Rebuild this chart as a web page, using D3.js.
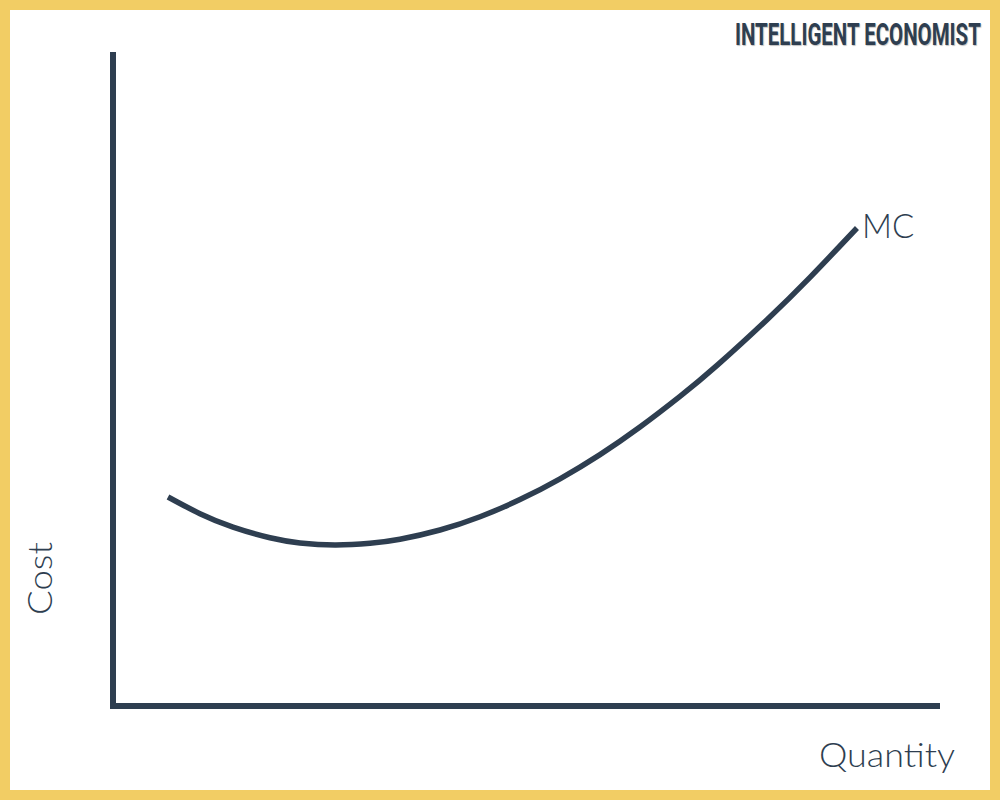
<!DOCTYPE html>
<html>
<head>
<meta charset="utf-8">
<script src="https://cdn.jsdelivr.net/npm/d3@7"></script>
<style>
  html, body { margin: 0; padding: 0; background: #fff; }
  svg { display: block; }
</style>
</head>
<body>
<svg id="chart" width="1000" height="800"></svg>
<script>
// Data (arbitrary units 0-100)
const mcQuantity = [6.65, 10.52, 14.51, 18.98, 22.61, 26.84, 31.08, 34.70, 39.54, 44.38, 49.21, 54.05, 58.89, 63.72, 68.56, 73.04, 79.08, 84.28, 89.96];
const mcCost     = [31.96, 29.40, 27.35, 25.73, 24.94, 24.62, 24.88, 25.50, 26.91, 28.94, 31.56, 34.74, 38.44, 42.66, 47.34, 52.08, 59.07, 65.54, 73.09];
const curveLabel = "MC";
const xAxisLabel = "Quantity";
const yAxisLabel = "Cost";
const brand = "INTELLIGENT ECONOMIST";

const ink = "#2E3E50";
const svg = d3.select("#chart");

// Border
svg.append("rect").attr("x", 0).attr("y", 0).attr("width", 1000).attr("height", 800).attr("fill", "#F2CD64");
svg.append("rect").attr("x", 10).attr("y", 10).attr("width", 980).attr("height", 780).attr("fill", "#ffffff");

const x = d3.scaleLinear().domain([0, 100]).range([113, 940]);
const y = d3.scaleLinear().domain([0, 100]).range([706, 52]);

// Axes (L-shape)
svg.append("path")
  .attr("d", d3.line()([[x(0), y(100)], [x(0), y(0)], [x(100), y(0)]]))
  .attr("fill", "none").attr("stroke", ink).attr("stroke-width", 6)
  .attr("stroke-linejoin", "miter").attr("stroke-linecap", "butt");

// MC curve
const pts = mcQuantity.map((q, i) => [q, mcCost[i]]);
svg.append("path")
  .datum(pts)
  .attr("d", d3.line().x(d => x(d[0])).y(d => y(d[1])).curve(d3.curveNatural))
  .attr("fill", "none").attr("stroke", ink).attr("stroke-width", 5.5)
  .attr("stroke-linecap", "butt");

const last = pts[pts.length - 1];
svg.append("text")
  .attr("x", x(last[0]) + 5).attr("y", y(last[1]) + 10)
  .attr("font-family", "Lato, 'Open Sans', sans-serif").attr("font-weight", 300)
  .attr("font-size", 33).attr("fill", ink)
  .text(curveLabel);

// Axis labels
svg.append("text")
  .attr("x", 955).attr("y", 767).attr("text-anchor", "end")
  .attr("font-family", "Lato, 'Open Sans', sans-serif").attr("font-weight", 300)
  .attr("font-size", 33).attr("fill", ink)
  .attr("textLength", 136).attr("lengthAdjust", "spacingAndGlyphs")
  .text(xAxisLabel);

svg.append("text")
  .attr("transform", "translate(52,615) rotate(-90)")
  .attr("font-family", "Lato, 'Open Sans', sans-serif").attr("font-weight", 300)
  .attr("font-size", 33).attr("fill", ink)
  .attr("textLength", 73).attr("lengthAdjust", "spacingAndGlyphs")
  .text(yAxisLabel);

// Brand (condensed via horizontal scale)
const brandText = svg.append("text")
  .attr("x", 0).attr("y", 0)
  .attr("font-family", "Roboto, 'Liberation Sans Narrow', sans-serif").attr("font-weight", 700)
  .attr("font-size", 32).attr("fill", ink)
  .style("text-shadow", "1px 1px 1px rgba(0,0,0,0.25)")
  .text(brand);
const natural = brandText.node().getComputedTextLength();
const sx = 246 / natural;
brandText.attr("transform", `translate(735,45) scale(${sx},1)`);
</script>
</body>
</html>
